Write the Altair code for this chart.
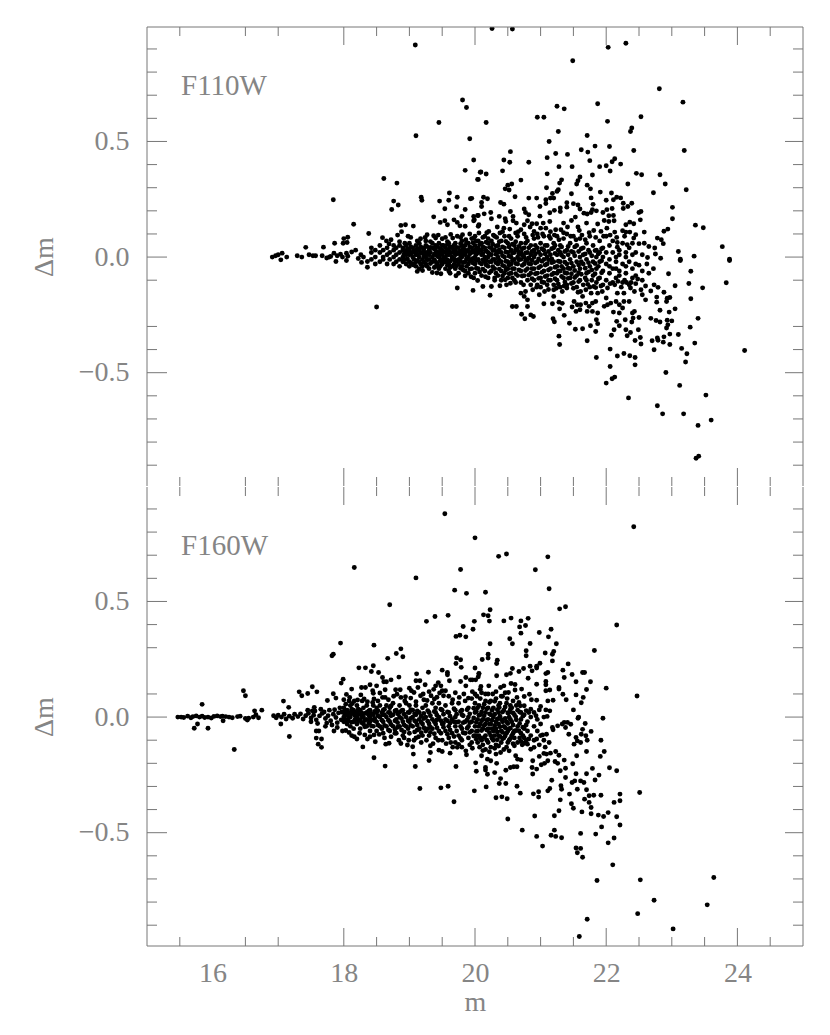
import altair as alt
import pandas as pd

X_MAJOR = [18, 20, 22, 24]
X_MINOR = [15.5, 16.5, 17, 18.5, 19, 19.5, 20.5, 21, 21.5, 22.5, 23, 23.5, 24.5]
Y_MAJOR = [-0.5, 0, 0.5]
Y_MINOR_TOP = [-0.9, -0.8, -0.7, -0.6, -0.4, -0.3, -0.1, 0.1, 0.2, 0.3, 0.4, 0.6, 0.7, 0.8, 0.9]
Y_MINOR_BOT = [-0.9, -0.8, -0.7, -0.6, -0.4, -0.3, -0.2, -0.1, 0.1, 0.3, 0.4, 0.6, 0.7, 0.8, 0.9]
X_LABELS = [16, 18, 20, 22, 24]

F110_UPPER = [(20.26,.988),(20.57,.986),(22.03,.907),(22.30,.925),(21.49,.849),(22.81,.728),(23.17,.67),(21.25,.652),(21.36,.641),(21.87,.663),(20.95,.605),(21.05,.605),(20.17,.582),(22.02,.587),(22.53,.607),(22.39,.558),(22.37,.543),(21.27,.543),(21.71,.526),(21.13,.50),(21.83,.48),(22.05,.478),(21.62,.464),(21.72,.454),(22.42,.461),(23.19,.461),(20.54,.456),(21.23,.448),(21.41,.444),(21.10,.43),(20.44,.42),(20.53,.41),(20.82,.41),(21.75,.417),(19.98,.42),(22.13,.425),(22.09,.412),(22.22,.402),(21.90,.391),(22.0,.395),(21.48,.391),(21.28,.391),(22.06,.372),(20.42,.373),(20.09,.368),(20.17,.359),(20.05,.336),(21.10,.36),(21.79,.355),(22.46,.362),(22.54,.356),(22.82,.356),(22.90,.316),(21.6,.346),(21.57,.33),(21.55,.316),(21.32,.334),(21.29,.32),(21.71,.311),(21.76,.295),(22.33,.316),(20.70,.333),(20.56,.316),(20.50,.311),(20.46,.295),(20.52,.29),(21.09,.30),(21.27,.291),(21.25,.284),(23.22,.291),(22.72,.278),(21.91,.281),(22.08,.277),(21.47,.274),(21.18,.275),(20.61,.261),(20.82,.255),(20.94,.255),(21.15,.255),(21.20,.255),(21.08,.248),(21.77,.256),(22.16,.259),(22.22,.256),(22.11,.248),(22.0,.246),(20.13,.259),(20.19,.252),(19.95,.254),(20.10,.236),(20.10,.219),(20.39,.236),(20.44,.229),(21.08,.232),(20.99,.219),(21.40,.235),(21.40,.216),(21.50,.231),(21.57,.225),(21.60,.208),(21.80,.228),(21.79,.205),(22.26,.233),(22.39,.233),(22.33,.219),(22.26,.21),(22.09,.21),(22.01,.205),(23.01,.215),(20.75,.208),(21.30,.212),(21.30,.197),(21.21,.202),(21.14,.192),(20.54,.197),(20.77,.193),(20.82,.183),(20.99,.177),(21.66,.19),(21.71,.186),(21.77,.193),(21.85,.20),(21.95,.193),(22.53,.197),(22.5,.193),(22.04,.179),(22.11,.18),(23.01,.166),(22.52,.161),(22.12,.157),(22.04,.154),(21.97,.158),(22.36,.151),(22.42,.144),(22.30,.14),(21.87,.143),(21.70,.147),(21.53,.173),(21.47,.158),(21.14,.154),(21.04,.147),(21.35,.147),(20.94,.144),(20.24,.193),(20.14,.187),(20.05,.18),(20.25,.166),(20.37,.176),(20.46,.166),(20.47,.154),(20.58,.176),(20.58,.157),(20.63,.147),(20.80,.157),(20.87,.144),(19.98,.176),(19.99,.161),(20.06,.14),(20.34,.13),(20.44,.125),(20.53,.121),(20.75,.14),(20.70,.118),(23.36,.138),(23.48,.127),(22.94,.121),(22.88,.112),(22.58,.108),(22.25,.114),(22.30,.108),(22.36,.108),(22.13,.108),(22.01,.125),(21.92,.111),(21.81,.115),(21.57,.13),(21.59,.115),(21.41,.13),(21.31,.118),(21.23,.118),(21.08,.125),(21.0,.125),(20.84,.13),(20.9,.111),(20.62,.104),(20.38,.104),(20.21,.111),(23.77,.045),(23.10,.024),(23.34,.004),(23.88,-.009),(22.78,.082),(22.84,.075),(22.87,.058),(22.74,.039),(22.65,.046),(22.58,.06),(22.5,.058),(22.42,.082),(22.45,.097),(22.17,.063),(22.32,.053),(22.17,.043),(22.75,.013),(22.83,-.005),(23.13,-.009),(22.63,-.002),
(19.09,.917),(19.81,.679),(19.87,.647),(19.45,.582),(19.10,.525),(19.92,.512),(19.85,.375),(20.08,.367),(20.04,.336),(18.61,.34),(18.81,.32),(17.84,.248),(19.18,.259),(19.19,.246),(18.76,.242),(18.83,.225),(18.73,.206),(19.46,.242),(19.61,.277),(19.60,.246),(19.73,.259),(19.93,.252),(19.72,.218),(19.54,.209),(19.85,.206),(19.37,.174),(19.80,.176),(19.68,.161),(19.54,.157),(19.47,.15),(19.58,.14),(19.73,.15),(19.77,.135),(19.85,.133),(20.04,.18),(19.98,.157),(18.15,.142),(18.87,.137),(18.94,.14),(19.06,.134),(18.88,.11),(18.82,.095),(18.38,.102),(18.06,.086),(18.0,.08),(17.99,.06),(18.05,.063),(17.86,.06),(18.59,.084),(18.65,.07),(18.69,.057),(18.98,.09),(18.85,.066),(19.17,.079),(19.27,.097),(19.37,.092),(19.40,.082),(19.32,.067),(19.50,.079),(19.58,.067),(19.66,.082),(19.73,.09),(19.81,.097),(19.86,.075),(19.98,.082),(20.06,.104),(20.05,.133),(17.42,.042),(17.69,.043)]

F110_LOWER = [(23.88,-.015),(23.83,-.111),(23.47,-.133),(23.29,-.061),(23.26,-.114),(23.29,-.18),(24.11,-.404),(23.40,-.265),(23.35,-.372),(23.28,-.303),(23.10,-.335),(23.05,-.124),(22.95,-.072),(23.13,-.015),(23.05,-.224),(22.96,-.238),(22.82,-.23),(22.93,-.178),(22.97,-.175),(22.92,-.192),(22.88,-.152),(22.77,-.173),(22.77,-.195),(22.68,-.147),(22.73,-.12),(22.79,-.131),(22.68,-.265),(22.76,-.274),(22.82,-.281),(22.93,-.273),(23.0,-.276),(22.94,-.293),(22.92,-.307),(22.97,-.333),(22.88,-.345),(22.78,-.35),(22.79,-.36),(22.87,-.368),(22.97,-.378),(22.70,-.362),(22.73,-.401),(23.15,-.395),(23.23,-.418),(23.21,-.454),(22.91,-.499),(23.12,-.555),(23.52,-.597),(22.78,-.643),(22.86,-.678),(23.18,-.678),(23.6,-.705),(23.40,-.728),(23.41,-.861),(23.37,-.87),(22.34,-.609),(22.0,-.545),(22.09,-.526),(22.13,-.519),(22.06,-.473),(22.44,-.466),(21.85,-.434),(22.06,-.398),(22.17,-.428),(22.27,-.417),(22.36,-.427),(22.44,-.434),(21.71,-.362),(21.28,-.342),(21.29,-.378),(22.53,-.376),(22.44,-.361),(22.52,-.348),(22.32,-.34),(22.30,-.314),(22.37,-.326),(22.49,-.314),(22.08,-.338),(22.12,-.314),(22.2,-.297),(22.16,-.278),(22.29,-.271),(22.41,-.264),(22.39,-.281),(22.50,-.261),(21.84,-.322),(21.76,-.297),(21.64,-.31),(21.53,-.312),(21.44,-.286),(21.87,-.288),(21.85,-.271),(21.19,-.267),(21.21,-.28),(21.36,-.252),(21.29,-.224),(20.71,-.247),(20.76,-.267),(20.85,-.25),(20.89,-.257),(20.57,-.214),(20.63,-.214),(20.80,-.214),(21.05,-.202),(21.18,-.202),(21.28,-.195),(21.33,-.2),(20.80,-.185),(20.70,-.156),(20.77,-.149),(20.75,-.17),(20.98,-.163),(20.88,-.141),(21.06,-.149),(21.2,-.141),(21.2,-.17),(21.33,-.149),(21.40,-.134),(19.97,-.144),(20.12,-.127),(20.23,-.165),(20.25,-.127),(20.38,-.124),(20.48,-.12),(20.54,-.113),(18.50,-.216),(19.12,-.062),(19.35,-.067),(19.42,-.069),(19.48,-.072),(19.71,-.081),(19.85,-.081),(19.73,-.134),(19.98,-.09),(20.04,-.101),
(21.51,-.192),(21.48,-.216),(21.56,-.206),(21.61,-.206),(21.69,-.199),(21.74,-.213),(21.79,-.199),(21.84,-.192),(21.79,-.235),(21.87,-.242),(21.54,-.235),(21.60,-.228),(21.71,-.235),(22.0,-.177),(22.02,-.206),(21.97,-.213),(22.07,-.199),(22.15,-.192),(22.20,-.206),(22.27,-.192),(22.35,-.192),(22.25,-.22),(22.11,-.238),(22.20,-.242),(22.43,-.235),(22.40,-.242),(22.55,-.163),(22.60,-.185),(22.53,-.141),(22.43,-.149),(22.17,-.156),(22.27,-.156),(22.37,-.134),(21.61,-.149),(21.69,-.141),(21.77,-.156),(21.87,-.156),(21.94,-.149),(22.02,-.134),(21.64,-.17),(21.81,-.127),(22.13,-.12),(22.23,-.13),(22.31,-.11),(22.45,-.115),(22.6,-.125),(22.2,-.08),(22.4,-.09),(22.55,-.06),(22.65,-.07),(22.5,-.035),(22.3,-.04),(22.15,-.05),(22.62,-.03),(22.72,-.05)]

F110_STRIP = [(16.91,.0),(16.96,.006),(17.0,.01),(17.06,.017),(17.04,-.012),(17.13,.0),(17.29,.006),(17.36,.0),(17.47,.01),(17.53,.006),(17.57,.006),(17.67,.006),(17.74,-.004),(17.8,.003),(17.85,.017),(17.88,-.019),(18.04,.017),(18.04,-.015),(18.26,.01),(18.27,-.023),(18.36,-.019),(18.36,-.044),(17.78,.0),(17.95,.012),(18.12,.022),(18.18,.03),(18.06,.004),(17.98,.0),(17.9,.006),(18.22,-.006),(18.3,.0)]

F110_CORE = [
(18.42,[.02,-.01,.04]),(18.48,[.0,-.03,.03]),(18.55,[.02,-.02,.05]),(18.6,[.0,.03,-.01]),(18.66,[.01,-.03,.04]),(18.7,[-.01,.02]),(18.76,[.03,-.03,.0,.05]),(18.8,[.01,-.02,.04]),(18.85,[-.01,.02,-.04,.05]),(18.9,[.03,.0,-.02,.04]),(18.95,[.01,-.03,.05,-.01]),
(19.0,[.03,-.02,.01,.06,-.04]),(19.05,[.0,.04,-.03,.02]),(19.1,[.05,.01,-.02,-.04,.03]),(19.15,[.0,.03,-.05,.06,-.02]),(19.2,[.02,-.01,.04,-.04]),(19.25,[.05,.0,-.03,.02,.07]),(19.3,[-.01,.03,-.05,.01]),(19.35,[.04,-.02,.06,.0]),(19.4,[.01,-.04,.03,-.02,.05]),(19.45,[.0,.06,-.05,.02]),(19.5,[.03,-.01,-.03,.05,.01]),(19.55,[-.05,.0,.04,.02,-.02]),(19.6,[.06,.01,-.03,.03,-.06]),(19.65,[-.01,.04,.02,-.04,.0]),(19.7,[.06,.01,-.05,-.02,.03]),(19.75,[.04,-.01,-.07,.02,-.03]),(19.8,[.0,.05,-.04,.07,.02]),(19.85,[-.02,.03,-.06,.01,.05]),(19.9,[.06,.0,-.03,.03,-.07]),(19.95,[.02,-.05,.08,-.01,.04]),
(20.0,[.0,.05,-.03,.02,-.07,.09]),(20.05,[-.01,.04,-.05,.07,.02]),(20.1,[.06,.01,-.03,-.08,.03]),(20.15,[-.02,.04,.09,-.06,.0]),(20.2,[.02,-.04,.06,-.09,.0,.08]),(20.25,[-.02,.04,-.06,.01,.07]),(20.3,[.09,.03,-.01,-.05,-.09]),(20.35,[.05,.0,-.03,-.08,.02]),(20.4,[.07,-.02,.02,-.06,-.1]),(20.45,[.04,.0,-.04,.09,-.07]),(20.5,[.02,-.02,.06,-.09,-.05]),(20.55,[.08,.0,-.03,-.07,.03]),(20.6,[-.01,.05,-.05,-.1,.02]),(20.65,[.03,-.03,.09,-.08,.0]),(20.7,[.06,-.01,-.06,-.11,.02]),(20.75,[.04,-.03,-.08,.0,.1]),(20.8,[.02,-.05,.07,-.1,-.01]),(20.85,[-.03,.05,.01,-.07,-.12]),(20.9,[.08,.0,-.05,-.1,.03]),(20.95,[.04,-.02,-.07,.1,-.12]),
(21.0,[.01,-.04,.06,-.09,-.13]),(21.05,[.09,-.01,-.06,.03,-.11]),(21.1,[.05,-.03,-.08,.0,-.12]),(21.15,[.01,-.05,.08,-.1,.11]),(21.2,[.04,-.02,-.07,-.12,.06]),(21.25,[-.04,.01,.09,-.1,-.07]),(21.3,[.05,-.02,-.06,-.13,.02]),(21.35,[.08,-.05,.0,-.09]),(21.4,[.03,-.03,-.07,-.12,.1]),(21.45,[-.01,.06,-.09,-.05]),(21.5,[.02,-.04,-.11,.09]),(21.55,[.05,-.02,-.08,-.13]),(21.6,[.0,.08,-.05,-.1]),(21.65,[-.03,.04,-.12,.01]),(21.7,[.06,-.01,-.07,-.1]),(21.75,[.02,-.04,-.13,.09]),(21.8,[-.02,.05,-.08]),(21.85,[.03,-.05,-.11,.0]),(21.9,[.07,-.02,-.09,.02]),(21.95,[.0,-.06,-.12,.04]),(22.0,[.09,-.03,.02,-.1]),(22.05,[.05,-.01,-.07,-.04]),(22.1,[.02,-.05,.07,-.11]),(22.15,[-.02,.0,-.09]),(22.2,[.03,-.06,.01]),(22.25,[.06,-.03,-.11]),(22.3,[.0,-.07,.02]),(22.35,[.04,-.02,-.12]),(22.4,[.01,-.05,.06]),(22.45,[-.03,.02,-.08]),(22.55,[.01,-.1])]

F110_DENSE = [
(18.92,[.012,-.012,.027]),(18.97,[.022,-.007,.036]),(19.02,[.015,-.025,.045]),(19.07,[.025,-.01,-.035]),(19.12,[.012,.035,-.015]),(19.17,[.018,-.03,.045]),(19.22,[.005,.035,-.022]),(19.27,[.015,-.012,.045,-.04]),(19.32,[.02,-.028,.042]),(19.38,[.012,-.012,.035,-.045]),(19.43,[.02,-.03,.045,.003]),(19.47,[.013,-.016,.036,-.04]),(19.52,[.022,-.022,.05,-.005]),(19.58,[.012,-.035,.032,-.012,.055]),(19.62,[.018,-.018,.045,-.045]),(19.68,[.026,-.008,-.032,.05]),(19.72,[.014,-.038,.042,-.014]),(19.78,[.026,-.018,-.048,.058,.006]),(19.82,[.014,-.024,.036,-.056]),(19.87,[.024,-.008,.062,-.04]),(19.92,[.014,-.018,.044,-.052]),(19.97,[.028,-.026,.062,-.006]),
(20.02,[.012,-.014,.036,-.048,.07]),(20.07,[.028,-.024,.054,-.064]),(20.12,[.016,-.012,.044,-.052]),(20.17,[.026,-.034,.064,-.016]),(20.22,[.012,-.02,.042,-.068]),(20.27,[.028,-.01,.056,-.042]),(20.32,[.012,-.024,.048,-.07]),(20.37,[.032,-.014,-.052,.066]),(20.42,[.006,-.036,.044,-.082]),(20.47,[.022,-.018,.068,-.056]),(20.52,[.004,-.034,.044,-.072]),(20.57,[.018,-.016,.056,-.05,-.09]),(20.62,[.034,-.028,.066,-.072]),(20.67,[.014,-.012,-.056,.046]),(20.72,[.036,-.036,-.082,.008]),(20.77,[.018,-.016,-.058,.06]),(20.82,[.04,-.028,-.078,-.004]),(20.87,[.024,-.014,-.05,-.094]),(20.92,[.05,-.026,-.072,.014]),(20.97,[.022,-.008,-.046,-.092]),
(21.02,[.036,-.018,-.066,-.108]),(21.07,[.014,-.034,-.084,.05]),(21.12,[.024,-.012,-.056,-.1]),(21.17,[.036,-.024,-.076,-.008]),(21.22,[.016,-.044,-.094,.05]),(21.27,[.03,-.018,-.06,-.116]),(21.32,[.008,-.04,-.084,.044]),(21.37,[.024,-.022,-.068,-.108]),(21.42,[.01,-.048,-.092,.046]),(21.47,[.024,-.026,-.072,-.114]),(21.52,[.006,-.058,-.088,.044]),(21.58,[.024,-.034,-.068,-.106]),(21.62,[.036,-.02,-.074]),(21.68,[.014,-.048,-.09]),(21.73,[.03,-.024,-.064]),(21.78,[.006,-.056,-.1]),(21.83,[.028,-.028,-.072]),(21.88,[.014,-.04,-.094]),(21.93,[.036,-.016,-.068])]

F110_EXTRA = [(18.72,.075),(18.93,.06),(19.02,.085),(19.12,.07),(19.24,.085),(19.44,.095),(19.55,.085),(19.63,.098),(19.78,.085),(19.92,.1),(20.12,.085),(20.18,.105),(20.28,.095),(20.33,.085),(20.42,.11),(20.52,.09),(20.66,.11),(20.78,.085),(20.88,.095),(20.96,.085),(21.03,.1),(21.13,.09),(21.21,.095),(21.28,.075),(21.35,.105),(21.46,.09),(21.54,.075),(21.63,.095),(21.68,.075),(21.74,.105),(21.84,.085),(21.96,.09),(22.06,.095),(22.16,.085),(22.28,.09),
(19.2,-.058),(19.62,-.07),(19.94,-.085),(20.16,-.085),(20.3,-.1),(20.46,-.098),(20.62,-.11),(20.74,-.12),(20.94,-.13),(21.12,-.14),(21.24,-.135),(21.36,-.125),(21.5,-.135),(21.57,-.152),(21.72,-.118),(21.84,-.132),(21.92,-.125),(22.06,-.115),(22.18,-.105),(22.28,-.1),(22.38,-.11),(22.48,-.095)]

F160_UPPER = [(19.54,.879),(20.0,.775),(18.16,.647),(19.10,.602),(19.78,.638),(19.69,.549),(19.87,.535),(18.70,.486),(19.26,.414),(19.39,.435),(19.59,.44),(19.99,.414),(19.82,.392),(19.97,.38),(19.71,.349),(19.77,.354),(19.86,.347),(17.95,.32),(18.46,.311),(17.82,.265),(17.84,.272),(18.87,.295),(18.80,.275),(18.67,.254),(18.90,.261),(19.72,.256),(19.78,.248),(19.71,.232),(19.79,.215),(20.0,.212),(18.23,.213),(18.33,.213),(18.45,.222),(18.42,.197),(18.53,.193),(19.29,.194),(19.11,.187),(19.50,.203),(19.58,.193),(19.58,.183),(18.59,.171),(18.61,.153),(18.65,.153),(18.72,.161),(18.84,.173),(17.99,.164),(17.96,.147),(19.10,.157),(19.16,.157),(19.61,.157),(19.78,.154),(19.86,.171),(19.93,.161),(20.01,.161),(20.06,.186),(19.86,.135),(19.44,.149),(19.40,.135),(19.48,.135),(19.37,.12),(19.50,.114),(19.55,.114),(19.52,.092),(17.52,.131),(17.32,.109),(17.36,.092),(17.45,.102),(17.59,.109),(16.47,.114),(16.50,.092),(15.84,.055),(18.12,.121),(17.84,.101),(17.88,.082),(17.75,.072),(18.04,.098),(18.27,.128),(18.33,.128),(18.40,.14),(18.50,.135),(18.26,.096),(18.44,.114),(18.45,.103),(18.63,.118),(18.55,.104),(18.59,.085),(18.63,.085),(18.79,.118),(18.86,.118),(18.81,.099),(18.87,.085),(18.94,.088),(19.0,.125),(19.03,.114),(19.24,.14),(19.13,.128),(19.07,.106),(19.21,.1),(19.33,.092),(19.38,.078),(19.22,.075),(18.0,.075),(18.08,.07),(18.16,.07),(18.03,.056),(18.13,.059),(18.31,.078),(18.28,.07),(18.46,.078),(18.44,.063),(17.08,.069),(17.16,.042),(16.75,.03),(16.64,.027),(17.55,.042),(17.52,.027),
(22.42,.823),(20.36,.695),(20.48,.705),(21.11,.693),(20.92,.637),(21.13,.555),(20.16,.54),(21.29,.468),(21.38,.477),(20.23,.464),(20.13,.442),(20.20,.438),(20.22,.415),(20.44,.416),(20.55,.428),(20.70,.416),(20.81,.427),(20.68,.39),(20.77,.396),(20.70,.363),(20.98,.366),(21.16,.38),(21.12,.347),(22.16,.398),(20.53,.339),(20.57,.317),(20.23,.317),(20.84,.318),(21.24,.317),(21.82,.288),(20.78,.287),(20.78,.265),(21.07,.277),(21.2,.284),(21.18,.272),(20.20,.272),(20.20,.255),(20.11,.249),(20.34,.246),(20.33,.232),(21.18,.243),(20.99,.233),(20.94,.22),(20.94,.212),(20.84,.22),(20.87,.2),(21.42,.23),(21.34,.203),(21.36,.171),(21.48,.184),(21.64,.193),(21.67,.193),(21.11,.193),(21.08,.188),(20.74,.21),(20.67,.197),(20.57,.21),(20.54,.189),(20.48,.183),(20.33,.179),(20.06,.189),(20.05,.174),(19.96,.161),(20.81,.168),(21.08,.154),(21.08,.14),(20.94,.142),(21.54,.153),(21.76,.153),(20.61,.141),(20.55,.145),(20.44,.135),(20.39,.128),(20.21,.135),(20.09,.132),(21.28,.128),(21.28,.121),(22.0,.125),(21.70,.119),(20.71,.121),(20.61,.117),(20.51,.106),(21.08,.114),(21.14,.117),(21.34,.099),(21.54,.096),(21.65,.085),(22.47,.091),(20.83,.099),(20.75,.089),(21.39,.075),(21.19,.073),(21.11,.07),(20.86,.075),(20.94,.073),(21.62,.062),(20.49,.08),(20.67,.063),(20.69,.049),(21.5,.031),(21.58,.0),(21.95,-.005),(21.0,.046),(21.08,.031),(21.14,.027),(20.98,.031),(20.93,.006),(21.1,.003),(20.85,.034),(20.82,.02),(20.9,.02),(20.54,.034),(20.52,.02),(20.62,.001),(20.75,.049),(20.37,.041)]

F160_LOWER = [(15.72,-.048),(15.77,-.03),(15.93,-.048),(16.33,-.14),(16.16,-.016),(16.53,-.013),(17.04,-.03),(17.17,-.084),(17.58,-.06),(17.62,-.06),(17.58,-.091),(17.66,-.095),(17.61,-.117),(17.66,-.131),(17.85,-.06),(17.98,-.06),(18.08,-.067),(18.16,-.085),(18.29,-.129),(18.2,-.095),(18.32,-.077),(18.36,-.095),(18.46,-.077),(18.48,-.107),(18.46,-.176),(18.63,-.212),(18.64,-.117),(18.69,-.113),(18.87,-.114),(18.97,-.121),(19.05,-.128),(19.06,-.16),(19.09,-.214),(19.30,-.188),(19.16,-.309),(19.48,-.306),(19.59,-.299),(19.68,-.366),(19.99,-.319),(19.71,-.214),(20.01,-.198),(20.02,-.234),(19.32,-.124),(19.32,-.153),(19.45,-.143),(19.50,-.149),(19.62,-.156),(19.86,-.146),(19.87,-.163),(19.73,-.131),
(20.17,-.302),(20.19,-.247),(20.16,-.218),(20.16,-.229),(20.30,-.24),(20.39,-.266),(20.37,-.287),(20.47,-.287),(20.32,-.349),(20.41,-.345),(20.49,-.353),(20.64,-.299),(20.69,-.329),(20.50,-.441),(20.72,-.489),(20.91,-.428),(20.94,-.516),(21.03,-.558),(20.89,-.332),(20.97,-.323),(20.97,-.346),(21.11,-.319),(21.14,-.309),(21.17,-.273),(21.31,-.297),(21.32,-.312),(21.30,-.358),(21.28,-.405),(21.21,-.427),(21.21,-.489),(21.16,-.511),(21.23,-.516),(21.32,-.522),(21.44,-.333),(21.47,-.375),(21.50,-.394),(21.56,-.312),(21.70,-.314),(21.67,-.355),(21.74,-.369),(21.74,-.34),(21.81,-.338),(21.92,-.338),(21.77,-.391),(21.63,-.41),(21.77,-.418),(21.88,-.424),(21.96,-.43),(22.03,-.413),(22.12,-.369),(22.21,-.333),(22.21,-.362),(22.16,-.431),(22.21,-.467),(21.93,-.475),(21.84,-.506),(22.12,-.523),(22.03,-.544),(21.61,-.503),(21.54,-.566),(21.61,-.568),(21.56,-.587),(21.64,-.606),(22.10,-.639),(21.86,-.707),(22.52,-.704),(22.51,-.326),(23.64,-.694),(22.73,-.792),(23.54,-.812),(22.48,-.85),(21.71,-.874),(21.59,-.949),(23.02,-.916),
(21.57,-.005),(21.68,-.028),(21.77,-.062),(21.92,-.1),(21.97,-.149),(21.91,-.17),(22.05,-.219),(22.16,-.232),(21.70,-.149),(21.55,-.167),(21.49,-.202),(21.79,-.222),(21.70,-.245),(21.89,-.251),(21.83,-.272),(21.54,-.245),(21.38,-.261),(21.38,-.221),(21.30,-.232),(21.48,-.283),(21.52,-.276),(21.61,-.276),(21.66,-.283),(21.36,-.186),(21.28,-.165),(21.23,-.149),(21.26,-.2),(21.22,-.192),(21.15,-.156),(21.09,-.16),(21.11,-.189),(21.01,-.206),(21.06,-.2),(20.94,-.225),(20.87,-.218),(20.88,-.246),(20.88,-.189),(20.98,-.17),(21.05,-.157),(20.70,-.185),(20.62,-.167),(20.65,-.182),(20.59,-.215),(20.54,-.218),(20.64,-.215),(20.47,-.23),(20.33,-.2),(20.24,-.189),(20.10,-.167),(20.19,-.182),(21.64,-.053),(21.62,-.074),(21.71,-.1),(21.69,-.081),(21.56,-.103),(21.61,-.11),(21.51,-.117),(21.54,-.088),(21.46,-.031),(21.41,-.023),(21.36,-.023),(21.38,-.045),(21.43,-.074),(21.33,-.03),(21.26,-.038),(21.18,-.045),(21.19,-.055),(21.13,-.11),(21.09,-.074),(21.03,-.077),(20.94,-.095),(20.9,-.131),(20.85,-.139),(20.8,-.117),(20.75,-.113),(20.72,-.12),(20.67,-.059),(20.6,-.124),(20.52,-.146),(20.39,-.153),(20.32,-.16)]

F160_STRIP = [(15.47,.0),(15.52,.0),(15.56,-.002),(15.62,.004),(15.67,-.003),(15.7,.002),(15.75,.005),(15.8,.0),(15.84,.004),(15.88,-.002),(15.93,.0),(15.98,-.004),(16.02,.003),(16.07,.005),(16.12,.002),(16.15,.004),(16.2,.002),(16.25,.0),(16.3,-.003),(16.38,.002),(16.42,.004),(16.5,-.006),(16.55,-.005),(16.62,.0),(16.66,.01),(16.7,-.003),(16.93,.006),(16.97,-.003),(17.0,.008),(17.05,.0),(17.09,.012),(17.12,-.008),(17.17,.004),(17.22,-.005),(17.25,.012),(17.3,.002),(17.34,.014),(17.38,-.008),(17.42,.006),(17.46,.016),(17.5,-.004),(17.54,.008),(17.58,-.012),(17.63,.005),(17.67,.016),(17.72,-.006),(17.76,.006),(17.8,-.016),(17.84,.012),(17.88,-.002),(17.92,.018),(17.96,-.012),
(17.45,.03),(17.5,-.02),(17.56,.026),(17.6,-.028),(17.65,.034),(17.7,.022),(17.74,-.026),(17.78,.03),(17.82,-.034),(17.86,.032),(17.9,-.024),(17.94,.04),(17.97,.022)]

F160_CORE = [
(18.0,[.02,-.02,.0,.04]),(18.05,[-.03,.01,.03]),(18.1,[.0,-.04,.02,.05]),(18.15,[.03,-.02,-.05]),(18.2,[.0,.05,-.03,.02]),(18.25,[-.01,.03,-.05]),(18.3,[.04,.0,-.03]),(18.35,[.02,-.04,.05,-.01]),(18.4,[-.02,.03,.0,-.06]),(18.45,[.05,.01,-.04]),(18.5,[.02,-.02,-.06,.04]),(18.55,[.0,.05,-.04]),(18.6,[-.02,.03,-.07,.01]),(18.65,[.05,.0,-.04]),(18.7,[-.02,.02,-.06,.04]),(18.75,[.01,-.04,.06]),(18.8,[-.01,.03,-.07]),(18.85,[.05,.0,-.04,.02]),(18.9,[-.02,-.08,.03]),(18.95,[.06,.0,-.04]),
(19.0,[.02,-.02,-.07,.05]),(19.05,[-.04,.0,.03]),(19.1,[.05,-.02,-.09,.01]),(19.15,[-.05,.02,-.01]),(19.2,[.04,-.03,-.08]),(19.25,[.0,-.06,.05]),(19.3,[.02,-.03,-.08]),(19.35,[.06,-.01,-.05]),(19.4,[.02,-.03,-.09,.04]),(19.45,[-.06,.0,.06]),(19.5,[.03,-.03,-.1]),(19.55,[-.01,-.06,.05]),(19.6,[.02,-.04,-.09]),(19.65,[.06,-.01,-.07]),(19.7,[.03,-.04,-.11,.0]),(19.75,[-.02,.06,-.08]),(19.8,[.03,-.05,-.1,.01]),(19.85,[-.02,.07,-.07]),(19.9,[.04,-.04,-.09,.0]),(19.95,[.08,-.02,-.06,-.11]),
(20.0,[.02,-.04,-.08,.06,.1]),(20.04,[-.01,.04,-.11,-.06]),(20.08,[.08,.01,-.03,-.09,.12]),(20.12,[-.05,.04,-.12,-.01]),(20.16,[.02,-.08,.07,-.03,-.14]),(20.2,[.1,-.01,-.05,.04,-.11]),(20.24,[-.03,.01,-.08,.07,-.13]),(20.28,[.04,-.06,-.1,.0]),(20.32,[-.02,.08,-.05,-.12]),(20.36,[.02,-.08,.05,-.03]),(20.4,[-.01,-.06,.09,-.11]),(20.44,[.03,-.04,-.09]),(20.48,[.06,-.02,-.07,-.13]),(20.52,[.0,-.05,-.1]),(20.56,[.04,-.08,-.02]),(20.6,[-.06,.01,-.09]),(20.65,[.03,-.04,-.11]),(20.7,[-.01,-.07,.02]),(20.75,[-.05,-.09,.01]),(20.8,[-.02,-.06]),(20.85,[.0,-.08]),(20.9,[-.04,-.1]),(20.95,[-.01,-.06]),(21.0,[-.03,-.08]),(21.05,[.0,-.1])]

F160_DENSE = [
(18.02,[.012,-.012,.028]),(18.07,[.018,-.018,-.004]),(18.12,[.014,-.022,.034]),(18.17,[.006,-.012,.02]),(18.22,[.012,-.016,.034]),(18.27,[.018,-.024,.006]),(18.32,[.016,-.014,-.042]),(18.38,[.008,-.026,.026]),(18.42,[.014,-.012,-.038]),(18.47,[.024,-.016,-.006]),(18.52,[.006,-.034,.028]),(18.58,[.018,-.014,-.05]),(18.62,[.01,-.036,.034]),(18.68,[.02,-.014,-.056]),(18.72,[.006,-.032,.048]),(18.78,[.026,-.016,-.054]),(18.82,[.014,-.024,-.044]),(18.88,[.028,-.006,-.056]),(18.92,[.012,-.034,-.064]),(18.98,[.02,-.016,-.05]),
(19.02,[.032,-.036,-.006]),(19.08,[.014,-.016,-.064]),(19.12,[.026,-.034,-.056]),(19.18,[.004,-.022,-.068]),(19.22,[.016,-.046,-.006]),(19.28,[.028,-.018,-.05]),(19.32,[.006,-.044,-.066]),(19.38,[.024,-.02,-.072]),(19.42,[.008,-.046,-.012]),(19.48,[.034,-.016,-.07]),(19.52,[.012,-.044,-.026]),(19.58,[.022,-.016,-.074]),(19.62,[.004,-.056,-.026]),(19.68,[.036,-.02,-.084]),(19.72,[.012,-.06,-.022]),(19.78,[.024,-.04,-.092]),(19.82,[.006,-.068,-.024]),(19.88,[.032,-.048,-.012]),(19.92,[.014,-.066,-.024]),(19.98,[.038,-.004,-.082]),
(20.02,[.024,-.022,-.062,-.096]),(20.06,[.05,.008,-.04,-.08]),(20.1,[.022,-.016,-.058,-.1]),(20.14,[.056,.006,-.036,-.088]),(20.18,[.036,-.014,-.056,-.1]),(20.22,[.064,.014,-.03,-.068]),(20.26,[.03,-.014,-.05,-.092]),(20.3,[.068,.012,-.036,-.08]),(20.34,[.032,-.008,-.064,-.098]),(20.38,[.06,.004,-.042,-.084]),(20.42,[.022,-.02,-.066,-.094]),(20.46,[.044,-.006,-.046,-.082]),(20.5,[.018,-.028,-.06,-.11]),(20.54,[.05,-.01,-.048,-.092]),(20.58,[.018,-.034,-.07]),(20.63,[.05,-.012,-.058]),(20.68,[.022,-.028,-.09]),(20.73,[.004,-.044,-.08]),(20.78,[.028,-.034,-.1])]

F160_EXTRA = [(18.09,.085),(18.21,.074),(18.36,.066),(18.52,.07),(18.68,.075),(18.76,.09),(18.93,.07),(19.02,.082),(19.1,.066),(19.17,.092),(19.27,.072),(19.3,.11),(19.42,.086),(19.46,.104),(19.6,.09),(19.66,.075),(19.7,.105),(19.76,.085),(19.83,.1),(19.9,.082),(19.96,.11),(20.03,.09),(20.1,.105),(20.16,.1),(20.27,.1),(20.32,.11),(20.42,.09),(20.46,.105),(20.58,.07),(20.64,.085),
(17.72,-.04),(17.9,-.045),(18.03,-.058),(18.12,-.08),(18.24,-.07),(18.4,-.085),(18.54,-.075),(18.62,-.09),(18.72,-.085),(18.78,-.07),(18.84,-.1),(18.92,-.09),(18.99,-.1),(19.07,-.1),(19.14,-.085),(19.18,-.11),(19.26,-.1),(19.36,-.115),(19.44,-.1),(19.56,-.115),(19.63,-.11),(19.66,-.13),(19.75,-.118),(19.8,-.13),(19.92,-.12),(19.96,-.135),(20.07,-.13),(20.12,-.145),(20.22,-.15),(20.3,-.135),(20.36,-.125),(20.44,-.14),(20.58,-.115),(20.7,-.105),(20.82,-.095),(20.98,-.12),(21.07,-.13)]


def flatten(core):
    return [(m, d) for m, ds in core for d in ds]


W, H = 656, 459
x_scale = alt.Scale(domain=[15, 25], nice=False, zero=False)
y_scale = alt.Scale(domain=[-0.99, 0.995], nice=False, zero=False)
INK = "#777777"
FONT = "Liberation Serif"
TEXT_GREY = "#858585"


def panel(points, label, minor_y, is_bottom):
    df = pd.DataFrame(points, columns=["m", "dm"])
    if is_bottom:
        xaxis = alt.Axis(values=X_LABELS, ticks=False, domain=False, grid=False, title="m", format="d",
                         labelFont=FONT, labelFontSize=28, labelColor=TEXT_GREY, labelPadding=13,
                         titleFont=FONT, titleFontSize=28, titleColor=TEXT_GREY, titleFontWeight="normal", titlePadding=1)
    else:
        xaxis = None
    yaxis = alt.Axis(values=Y_MAJOR, ticks=False, domain=False, grid=False, title="Δm", format=".1f",
                     labelFont=FONT, labelFontSize=28, labelColor=TEXT_GREY, labelPadding=18,
                     titleFont=FONT, titleFontSize=28, titleColor=TEXT_GREY, titleFontWeight="normal", titlePadding=20)

    def xticks(values, y0, y1):
        return alt.Chart(pd.DataFrame({"v": values})).mark_rule(color=INK, strokeWidth=1).encode(
            x=alt.X("v:Q", scale=x_scale, axis=xaxis), y=alt.value(y0), y2=alt.value(y1))

    def yticks(values, x0, x1):
        return alt.Chart(pd.DataFrame({"v": values})).mark_rule(color=INK, strokeWidth=1).encode(
            y=alt.Y("v:Q", scale=y_scale, axis=yaxis), x=alt.value(x0), x2=alt.value(x1))

    dots = alt.Chart(df).mark_circle(color="black", opacity=1, size=24, clip=True).encode(
        x=alt.X("m:Q", scale=x_scale, axis=xaxis),
        y=alt.Y("dm:Q", scale=y_scale, axis=yaxis))
    layers = [
        xticks(X_MINOR, 0, 9), xticks(X_MAJOR, 0, 18),
        xticks(X_MINOR, H - 9, H), xticks(X_MAJOR, H - 18, H),
        yticks(minor_y, 0, 10), yticks(Y_MAJOR, 0, 20),
        yticks(minor_y, W - 10, W), yticks(Y_MAJOR, W - 18, W),
        alt.Chart().mark_rule(color=INK, strokeWidth=1).encode(x=alt.value(0), y=alt.value(0), y2=alt.value(H)),
        alt.Chart().mark_rule(color=INK, strokeWidth=1).encode(x=alt.value(W), y=alt.value(0), y2=alt.value(H)),
    ]
    edge = H if is_bottom else 0
    layers.append(alt.Chart().mark_rule(color=INK, strokeWidth=1).encode(
        y=alt.value(edge), x=alt.value(0), x2=alt.value(W)))
    layers.append(alt.Chart().mark_text(text=label, font=FONT, fontSize=29, color=TEXT_GREY, align="left",
                                        baseline="alphabetic").encode(x=alt.value(34), y=alt.value(68)))
    return alt.layer(dots, *layers).properties(width=W, height=H)


top = panel(F110_UPPER + F110_LOWER + F110_STRIP + F110_EXTRA + flatten(F110_CORE) + flatten(F110_DENSE), "F110W", Y_MINOR_TOP, False)
bottom = panel(F160_UPPER + F160_LOWER + F160_STRIP + F160_EXTRA + flatten(F160_CORE) + flatten(F160_DENSE), "F160W", Y_MINOR_BOT, True)

chart = alt.vconcat(top, bottom, spacing=-1).properties(
    padding={"left": 22, "top": 18, "right": 5, "bottom": 5}
).configure_view(stroke=None)

chart.save("out.html", embed_options={"renderer": "svg", "actions": False})
